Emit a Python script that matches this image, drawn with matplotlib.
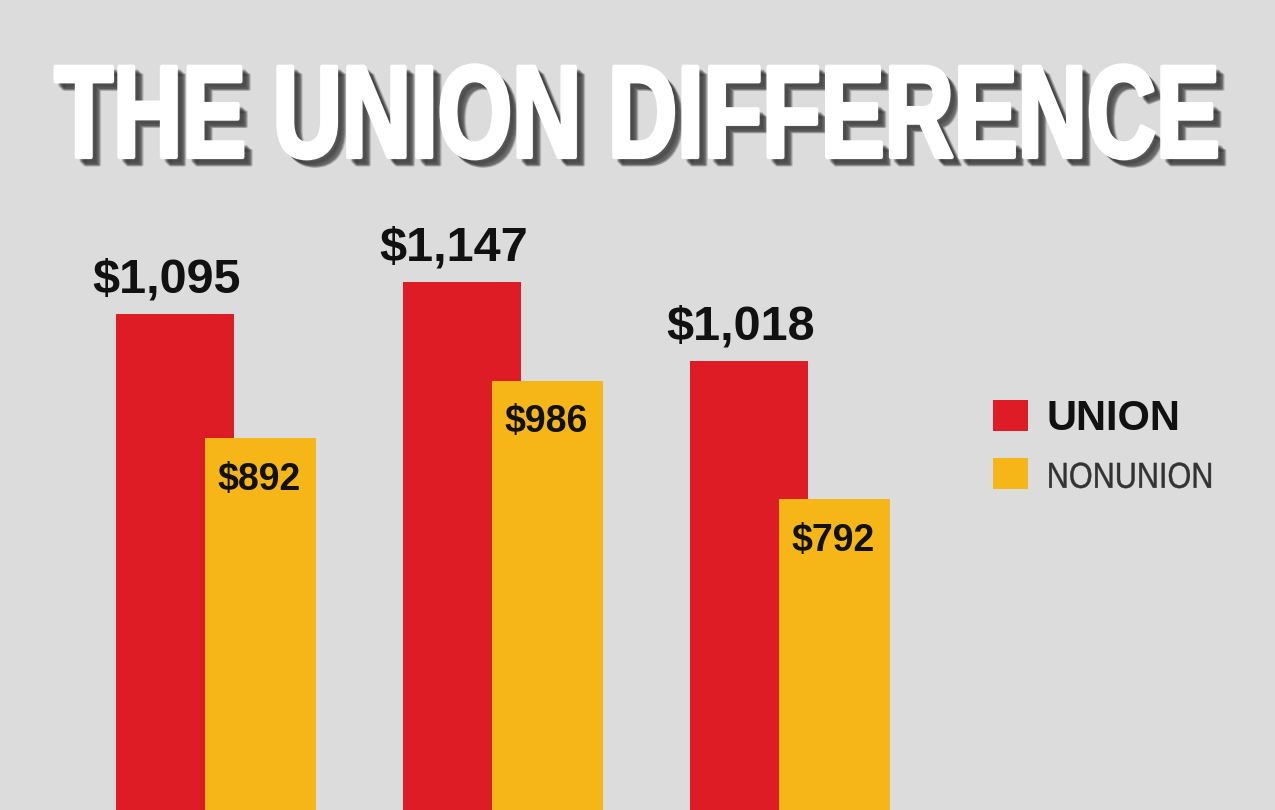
import matplotlib
matplotlib.use('Agg')
import matplotlib.pyplot as plt
import matplotlib.patheffects as pe
from matplotlib.transforms import Affine2D
from matplotlib.patches import Patch
import numpy as np

# ---- data ----
groups = [0, 1, 2]
union = [1095, 1147, 1018]
nonunion = [892, 986, 792]
series_names = ['UNION', 'NONUNION']
title = 'THE UNION DIFFERENCE'

BG = '#dcdcdc'
RED = '#de1c25'
YELLOW = '#f7b618'

W, H = 1275, 810
fig = plt.figure(figsize=(W / 100, H / 100), dpi=100, facecolor=BG)
ax = fig.add_axes([0, 0, 1, 1])
ax.set_facecolor(BG)
for s in ax.spines.values():
    s.set_visible(False)
ax.set_xticks([])
ax.set_yticks([])

x = np.array(groups, dtype=float)
red_w = 118 / 287
yel_w = 111 / 287
yel_off = 85.5 / 287

ax.bar(x, union, width=red_w, color=RED, zorder=2)
ax.bar(x + yel_off, nonunion, width=yel_w, color=YELLOW, zorder=3)
ax.set_xlim(-175 / 287, -175 / 287 + W / 287)
ax.set_ylim(284, 1609)

bold = dict(family=['Liberation Sans', 'DejaVu Sans'], weight='bold')
for xi, v in zip(x, union):
    ax.annotate(r'\$' + f'{v:,}', (xi - 0.03, v), xytext=(0, 15.8), textcoords='offset points',
                ha='center', va='baseline', fontsize=35, color='#111111', zorder=5, **bold)
for xi, v in zip(x, nonunion):
    ax.annotate(r'\$' + f'{v:,}', (xi + yel_off - 0.005, v), xytext=(0, -37), textcoords='offset points',
                ha='center', va='baseline', fontsize=27, color='#111111', zorder=5, **bold)


class Squeeze(pe.AbstractPathEffect):
    """Draw glyph paths scaled about (cx, cy) in display space, optionally offset/recoloured."""
    def __init__(self, sx=1.0, sy=1.0, cx=0.0, cy=0.0, offset=(0, 0), color=None, alpha=1.0, lw=0.0):
        super().__init__()
        self.sx, self.sy, self.cx, self.cy = sx, sy, cx, cy
        self.off = offset
        self.color, self.alpha, self.lw = color, alpha, lw

    def draw_path(self, renderer, gc, tpath, affine, rgbFace=None):
        t = affine + Affine2D().translate(-self.cx, -self.cy).scale(self.sx, self.sy).translate(
            self.cx + self.off[0], self.cy + self.off[1])
        g = renderer.new_gc()
        g.copy_properties(gc)
        face = rgbFace
        if self.color is not None:
            face = matplotlib.colors.to_rgba(self.color)
            g.set_foreground(self.color)
        g.set_alpha(self.alpha)
        g.set_linewidth(self.lw)
        renderer.draw_path(g, tpath, t, face)
        g.restore()


# legend
handles = [Patch(facecolor=RED, edgecolor='none'), Patch(facecolor=YELLOW, edgecolor='none')]
leg = ax.legend(handles, series_names, loc='upper left', bbox_to_anchor=(993 / W, 1 - 399 / H),
                frameon=False, borderpad=0, borderaxespad=0, handlelength=0.84, handleheight=0.77,
                handletextpad=0.45, labelspacing=0.45,
                prop=dict(family=['Liberation Sans', 'DejaVu Sans'], weight='bold', size=30))
t1, t2 = leg.get_texts()
t1.set_color('#111111')
t2.set_fontfamily(['Liberation Sans', 'DejaVu Sans'])
t2.set_fontweight('normal')
t2.set_fontsize(26)
t2.set_color('#333333')

# title
title_fs = 60
title_t = fig.text(0.5, 1 - 157 / H, title, ha='center', va='baseline',
                   fontsize=title_fs, color='white', weight='bold',
                   family=['Liberation Sans Narrow', 'Liberation Sans', 'DejaVu Sans'])
fig.canvas.draw()

# NONUNION: condense horizontally to the reference width
bb2 = t2.get_window_extent()
sx2 = (1212 - 1045) / bb2.width
t2.set_path_effects([Squeeze(sx2, 1.0, bb2.x0, 0.0, color='#333333', lw=0.3)])

# title: condensed, tall glyphs with a soft drop shadow
bb = title_t.get_window_extent()
cx = W / 2
cy = H - 157  # baseline in display pixels
sx = (1218 - 52) / bb.width
sy = 94.5 / title_fs
shadow = []
for dx, dy in [(4, -4), (5, -5), (6, -6), (7, -7), (8, -8), (9, -8)]:
    shadow.append(Squeeze(sx, sy, cx, cy, (dx, dy), color='#333333', alpha=0.22, lw=2))
title_t.set_path_effects(shadow + [Squeeze(sx, sy, cx, cy, (0, 0), color='white', alpha=1.0, lw=3)])

fig.savefig('out.png', dpi=100, facecolor=BG)
